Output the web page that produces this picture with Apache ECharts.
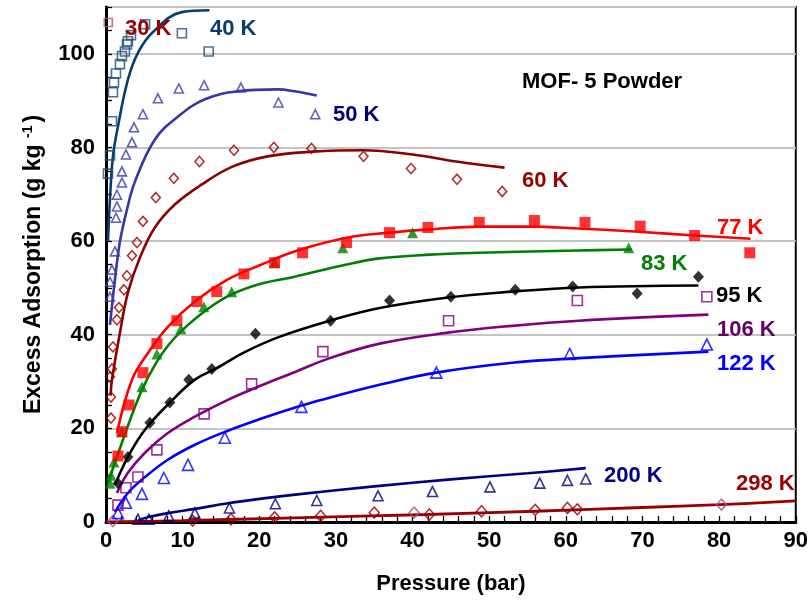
<!DOCTYPE html>
<html>
<head>
<meta charset="utf-8">
<script src="https://cdn.jsdelivr.net/npm/echarts@6/dist/echarts.min.js"></script>
<style>
html,body{margin:0;padding:0;background:#fff;}
#chart{width:811px;height:600px;}
</style>
</head>
<body>
<div id="chart"></div>
<script>
// Hydrogen excess adsorption on MOF-5 powder: measured points and model curves per temperature.
// Each pair is [pressure (bar), excess adsorption (g/kg)].

const pts30 = [[0.3, 106.7]];

const pts40 = [[0.26,74.4],[0.52,78.3],[0.78,85.6],[0.91,91.8],[1.04,93.9],[1.3,95.8],[1.82,97.8],[2.08,99.5],[2.47,100.5],[2.73,102],[2.86,102.7],[3.26,104],[5.1,106.3],[9.9,104.4],[13.4,100.5]];
const fit40 = [[0.26,60],[0.52,69],[0.9,78],[1.56,84.5],[2.86,94.5],[4.2,100.3],[6.1,104.6],[9.9,108.9],[13.5,109.3]];

const pts50 = [[0.52,48.1],[0.52,51.3],[0.78,53.9],[1.17,57.8],[1.3,65],[1.43,67.4],[1.43,69.9],[2.08,72.5],[2.08,74.9],[2.6,78.5],[3.39,81.1],[3.65,84.3],[4.82,87.1],[6.77,90.5],[9.5,92.6],[12.8,93.3],[17.6,92.8],[22.5,89.6],[27.3,87.1]];
const fit50 = [[0.52,42.1],[1.17,51.8],[1.82,59.9],[2.73,66.7],[3.78,72.7],[6.38,81.7],[9.4,86.6],[12.9,90.3],[17.2,92],[22.4,92.4],[24.6,92],[27.5,91.1]];

const pts60 = [[0.65,22.2],[0.65,26.7],[0.52,31],[0.78,32.7],[0.91,37.4],[1.43,43.2],[1.69,45.8],[2.34,49.6],[2.73,52.6],[3.39,56.9],[4.04,59.7],[4.82,64.2],[6.5,69.3],[8.85,73.4],[12.2,77],[16.7,79.4],[21.9,80],[26.8,79.8],[33.6,78.1],[39.8,75.5],[45.8,73.2],[51.7,70.6]];
const fit60 = [[0.6,27],[0.78,30.4],[1.82,40.4],[2.86,49],[4.43,56.5],[6.38,62.9],[8.98,67.8],[12.5,72.1],[16.5,75.9],[21.1,78.1],[27,79.1],[33.5,79.4],[40,78.5],[45.7,77],[52,75.7]];

const pts77 = [[1.56,14.1],[2.08,19.3],[3,25],[4.82,31.9],[6.64,38.1],[9.24,43],[11.85,47.1],[14.45,49.2],[18,53],[22,55.4],[25.65,57.5],[31.4,59.7],[37,61.8],[42,62.9],[48.7,64],[55.9,64.4],[62.5,64],[69.7,63.2],[76.8,61.2],[84,57.5]];
const fit77 = [[1.43,19],[3.39,30.4],[5.47,36.1],[8.07,41.7],[11.6,47.1],[15.9,51.8],[20.3,55],[24.6,57.8],[31.4,60.7],[37,61.8],[42.2,62.5],[48.7,63.1],[55.2,63.1],[61.7,62.7],[69.5,62],[76.8,61.2],[84.1,60.5]];

const pts83 = [[0.52,8.3],[0.65,10],[1.04,12.8],[2.08,19.3],[4.69,28.9],[6.64,35.9],[9.77,41.3],[12.76,46],[16.4,49.2],[22,55.4],[30.9,58.6],[40,61.8],[68.2,58.6]];
const fit83 = [[0.26,8.3],[3.78,24.6],[5.34,30.4],[7.68,36.8],[10.7,42.1],[15.1,47.5],[19.4,50.5],[24.6,52.4],[31.4,55],[35.7,56.3],[42.2,57.1],[48.7,57.5],[61.7,58],[68.6,58.2]];

const pts95 = [[1.56,8.3],[2.86,13.9],[5.73,21.2],[8.33,25.5],[10.8,30.4],[13.8,32.7],[19.5,40.2],[29.3,43],[37,47.3],[45,48.1],[53.4,49.6],[60.9,50.3],[69.3,48.8],[77.3,52.4]];
const fit95 = [[1.17,7.9],[2.86,13.9],[5.08,19.7],[8.33,25.5],[11.6,30.4],[14.6,33],[18.1,36.3],[22.7,39.6],[29.2,43],[35.7,45.7],[44.4,47.9],[53,49.2],[61.7,50.1],[77.3,50.5]];

const pts106 = [[1.56,3.6],[2.6,7.3],[4.17,9.6],[6.64,15.4],[12.8,23.1],[19,29.5],[28.3,36.4],[44.7,43],[61.5,47.3],[78.4,48.1]];
const fit106 = [[1.43,6.2],[2.86,10.5],[5.08,14.8],[8.07,19],[11.6,22.5],[15.9,26.1],[20.3,29.2],[24.6,32],[29.2,35],[35.7,38.1],[44.4,40.4],[53,41.9],[61.7,43],[78.6,44.3]];

const pts122 = [[1.56,1.9],[2.6,4.1],[4.69,6],[7.55,9.4],[10.7,12.2],[15.5,18],[25.5,24.6],[43.1,31.9],[60.5,35.9],[78.4,37.9]];
const fit122 = [[1.17,2.1],[2.86,6.2],[5.08,9.6],[8.07,13.3],[11.6,16.5],[15.9,19.5],[20.3,22.1],[24.6,24.4],[27.9,26],[35.7,29.3],[43.1,31.9],[53,34],[61.7,35],[78.6,36.4]];

const pts200 = [[4.17,0.6],[5.6,0.6],[8.2,1.3],[11.6,1.9],[16.1,3],[22.1,3.9],[27.5,4.6],[35.5,5.6],[42.6,6.5],[50.1,7.5],[56.6,8.3],[60.2,8.9],[62.6,9.2]];
const fit200 = [[4.2,0.4],[5.7,1.1],[8.1,1.9],[11.6,2.8],[15.9,4.0],[20.3,5.0],[25,5.9],[35,7.6],[45,9.1],[55,10.4],[62.6,11.5]];

const pts298 = [[11.3,0.3],[16.3,0.6],[22,1.0],[28,1.3],[35,2.0],[42.2,1.6],[49,2.3],[56,2.6],[60.2,3.0],[61.5,2.7]];
const pts298b = [[0.9,0.2],[40.2,2.0],[80.3,3.7]];
const fit298 = [[0,0],[10,0.3],[24.6,0.9],[42,1.6],[56,2.3],[70,3.1],[80,3.7],[90,4.5]];

// Tick values shown on the axes
const xTicks = [0,10,20,30,40,50,60,70,80,90];
const yTicks = [0,20,40,60,80,100];

// Text annotations placed beside each curve
const curveLabels = [
  {text:'30 K', color:'#990000', x:125, y:29},
  {text:'40 K', color:'#0b3c6e', x:210, y:29},
  {text:'50 K', color:'#00007f', x:333, y:115},
  {text:'60 K', color:'#990000', x:522, y:181},
  {text:'77 K', color:'#ff0000', x:717, y:228},
  {text:'83 K', color:'#008000', x:641, y:264},
  {text:'95 K', color:'#000000', x:716, y:296},
  {text:'106 K', color:'#660066', x:717, y:330},
  {text:'122 K', color:'#0000ff', x:717, y:364},
  {text:'200 K', color:'#000080', x:604, y:476},
  {text:'298 K', color:'#990000', x:736, y:484},
  {text:'MOF- 5 Powder', color:'#000000', x:522, y:82}
];

const FONT = 'Liberation Sans, Arial, sans-serif';

function openPts(name, data, symbol, color, size) {
  return {
    name: name, type: 'scatter', data: data, symbol: symbol, symbolSize: size,
    itemStyle: {color: 'rgba(255,255,255,0)', borderColor: color, borderWidth: 1.6},
    z: 3
  };
}
function filledPts(name, data, symbol, color, size) {
  return {
    name: name, type: 'scatter', data: data, symbol: symbol, symbolSize: size,
    itemStyle: {color: color}, z: 3
  };
}
function fitLine(name, data, color, width) {
  return {
    name: name, type: 'line', data: data, smooth: 0.4,
    showSymbol: false, symbol: 'none',
    lineStyle: {color: color, width: width || 2.6}, z: 2
  };
}

const chart = echarts.init(document.getElementById('chart'), null, {renderer: 'canvas'});

chart.setOption({
  backgroundColor: '#ffffff',
  animation: false,
  grid: {left: 106, right: 14, top: 7, bottom: 78, show: true, borderColor: '#000', borderWidth: 2, backgroundColor: 'transparent'},
  xAxis: {
    type: 'value', min: 0, max: 90, interval: 10,
    name: 'Pressure (bar)', nameLocation: 'middle', nameGap: 51,
    nameTextStyle: {fontFamily: FONT, fontSize: 22, fontWeight: 'bold', color: '#000'},
    axisLine: {show: true, lineStyle: {color: '#000', width: 3}},
    axisTick: {show: true, inside: true, length: 6, lineStyle: {color: '#000', width: 1.3}},
    minorTick: {show: true, splitNumber: 5, length: 6, lineStyle: {color: '#000', width: 1.3}},
    splitLine: {show: false},
    axisLabel: {
      fontFamily: FONT, fontSize: 22, fontWeight: 'bold', color: '#000', margin: 8,
      formatter: v => xTicks.indexOf(v) >= 0 ? String(v) : ''
    }
  },
  yAxis: {
    type: 'value', min: 0, max: 110, interval: 20,
    name: '{a|Excess Adsorption (g kg }{s|-1}{a|)}', nameLocation: 'middle', nameGap: 59,
    nameTextStyle: {
      color: '#000',
      rich: {
        a: {fontFamily: FONT, fontSize: 23, fontWeight: 'bold', color: '#000', lineHeight: 26},
        s: {fontFamily: FONT, fontSize: 14, fontWeight: 'bold', color: '#000', verticalAlign: 'top', lineHeight: 26, padding: [0, 3, 10, 0]}
      }
    },
    axisLine: {show: true, lineStyle: {color: '#000', width: 3}},
    axisTick: {show: true, inside: true, length: 6, lineStyle: {color: '#000', width: 1.3}},
    minorTick: {show: true, splitNumber: 4, length: 6, lineStyle: {color: '#000', width: 1.3}},
    splitLine: {show: true, lineStyle: {color: '#c4c4c4', width: 2}},
    axisLabel: {
      fontFamily: FONT, fontSize: 22, fontWeight: 'bold', color: '#000', margin: 11,
      showMaxLabel: false,
      formatter: v => yTicks.indexOf(v) >= 0 ? String(v) : ''
    }
  },
  series: [
    fitLine('298 K fit', fit298, '#990000', 2.8),
    fitLine('200 K fit', fit200, '#000080'),
    fitLine('122 K fit', fit122, '#0000ff'),
    fitLine('106 K fit', fit106, '#800080'),
    fitLine('95 K fit', fit95, '#000000'),
    fitLine('83 K fit', fit83, '#008000'),
    fitLine('77 K fit', fit77, '#ff0000'),
    fitLine('60 K fit', fit60, '#8b0000'),
    fitLine('50 K fit', fit50, '#3636a6'),
    fitLine('40 K fit', fit40, '#0b3c6e'),
    openPts('298 K', pts298, 'diamond', '#990000', [10, 11]),
    openPts('298 K (b)', pts298b, 'diamond', '#a5507f', [10, 11]),
    openPts('200 K', pts200, 'triangle', '#000080', 10),
    openPts('122 K', pts122, 'triangle', '#0000ff', 11),
    openPts('106 K', pts106, 'rect', '#800080', 10),
    filledPts('95 K', pts95, 'diamond', '#000000', [11, 12]),
    filledPts('83 K', pts83, 'triangle', '#008000', 11),
    filledPts('77 K', pts77, 'rect', '#ff0000', 11),
    openPts('60 K', pts60, 'diamond', '#990000', [9, 10]),
    openPts('50 K', pts50, 'triangle', '#3a3aa8', 9),
    openPts('40 K', pts40, 'rect', '#1f4e79', 9),
    openPts('30 K', pts30, 'rect', '#b05080', 8)
  ],
  graphic: curveLabels.map(l => ({
    type: 'text', x: l.x, y: l.y, z: 10,
    style: {text: l.text, fill: l.color, font: 'bold 22px ' + FONT, textVerticalAlign: 'middle', verticalAlign: 'middle'}
  }))
});
</script>
</body>
</html>
